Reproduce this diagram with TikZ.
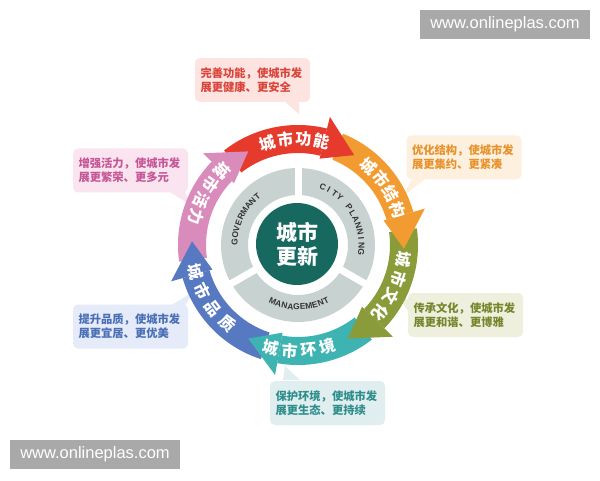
\documentclass[tikz,border=0pt]{standalone}
\usepackage{fontspec}
\newfontfamily\cjk{Noto Sans CJK SC}
\newfontfamily\arial{Liberation Sans}
\definecolor{cred}{HTML}{E53A2C}
\definecolor{corange}{HTML}{F29B30}
\definecolor{colive}{HTML}{8A9B3A}
\definecolor{cteal}{HTML}{3DB4B2}
\definecolor{cblue}{HTML}{5679C2}
\definecolor{cpink}{HTML}{D98CBB}
\definecolor{ringgray}{HTML}{C8D2D1}
\definecolor{darkc}{HTML}{17695F}
\definecolor{wmgray}{HTML}{A9A9A9}
\definecolor{ringtext}{HTML}{333333}
\definecolor{fa}{HTML}{FDE4E1}\definecolor{ta}{HTML}{D9453B}
\definecolor{fb}{HTML}{FDF0DE}\definecolor{tb}{HTML}{E8922C}
\definecolor{fc}{HTML}{EEF0DD}\definecolor{tc}{HTML}{76862D}
\definecolor{fd}{HTML}{E1EEF0}\definecolor{td}{HTML}{2E8E8C}
\definecolor{fe}{HTML}{E5EBF8}\definecolor{te}{HTML}{4A6FB6}
\definecolor{ff}{HTML}{FAE4EF}\definecolor{tf}{HTML}{C55796}
\newcommand\myarclabel[7]{%
  \foreach \ch [count=\i from 0] in {#1} {%
    \pgfmathsetmacro\ang{#2+\i*(#3)}%
    \pgfmathsetmacro\rot{\ang+#4}%
    \node[#6, rotate=\rot] (#7\i) at (\ang:#5) {\ch};
  }}
\begin{document}
\begin{tikzpicture}[x=1pt,y=1pt,
  wm/.style={fill=wmgray, minimum width=170, minimum height=29, inner sep=0,
    text=white, font=\arial\fontsize{16.5}{18}\selectfont},
  arclbl/.style={text=white, inner sep=0, font=\cjk\bfseries\fontsize{16}{16}\selectfont},
  ringlbl/.style={text=ringtext, inner sep=0, font=\arial\bfseries\fontsize{8.5}{9}\selectfont},
  callout/.style={rounded corners=5, minimum width=115, minimum height=44, inner sep=0,
    text width=104, align=left, font=\cjk\bfseries\fontsize{11.3}{14}\selectfont}]
\useasboundingbox (0,0) rectangle (600,480);
\fill[white] (0,0) rectangle (600,480);

% watermarks
\node[wm] (wm1) at (505,455.5) {www.onlineplas.com};
\node[wm] (wm2) at (95,25.5) {www.onlineplas.com};

% callout pointers
\fill[fa] (283,380) -- (299,380) -- (299,366) -- cycle;
\fill[fb] (413,303) -- (428,303) -- (403,284) -- cycle;
\fill[fc] (410,180) -- (410,166) -- (397,185) -- cycle;
\fill[fd] (283,100) -- (300,100) -- (285,114) -- cycle;
\fill[fe] (170,174) -- (185,174) -- (193,188) -- cycle;
\fill[ff] (170,288) -- (185,288) -- (192,274) -- cycle;

% callout boxes
\node[callout, fill=fa, text=ta] (ba) at (252.5,400) {完善功能，使城市发\\展更健康、更安全};
\node[callout, fill=fb, text=tb] (bb) at (464,322.5) {优化结构，使城市发\\展更集约、更紧凑};
\node[callout, fill=fc, text=tc] (bc) at (465.5,165) {传承文化，使城市发\\展更和谐、更博雅};
\node[callout, fill=fd, text=td] (bd) at (327.5,77) {保护环境，使城市发\\展更生态、更持续};
\node[callout, fill=fe, text=te] (be) at (130.5,153.5) {提升品质，使城市发\\展更宜居、更优美};
\node[callout, fill=ff, text=tf] (bf) at (130.5,309.5) {增强活力，使城市发\\展更繁荣、更多元};

\begin{scope}[shift={(298,235)}]
  % gray ring
  \fill[ringgray, even odd rule] (0,0) circle[radius=77] (0,0) circle[radius=50];
  \foreach \a in {90,210,330} \draw[white, line width=7] (\a:45) -- (\a:82);
  \fill[darkc] (-1,1) circle[radius=41];
  \node[text=white, align=center, inner sep=0,
    font=\cjk\bfseries\fontsize{21}{24}\selectfont] (ctr) at (-1,1) {城市\\更新};

  % ring texts
  \myarclabel{G,O,V,E,R,M,A,N,T}{177}{-5.875}{-90}{63.5}{ringlbl}{gv}
  \myarclabel{C,I,T,Y,,P,L,A,N,N,I,N,G}{67}{-6.1}{-90}{63.5}{ringlbl}{cp}
  \myarclabel{M,A,N,A,G,E,M,E,N,T}{246}{5.67}{90}{62}{ringlbl}{mg}

  % colored bands
  \foreach \t/\s/\c in {58/128/cred, -2/68/corange, -62/8/colive, -118/-52/cteal, 178/252/cblue, 118/188/cpink} {
    \pgfmathsetmacro\b{\t+18}
    \fill[\c] (\s:120) arc[start angle=\s, end angle=\b, radius=120]
      -- (\b:92) arc[start angle=\b, end angle=\s, radius=92] -- cycle;
  }
  % arrow heads
  \foreach \t/\c in {58/cred, -2/corange, -62/colive, -118/cteal, 178/cblue, 118/cpink} {
    \pgfmathsetmacro\b{\t+18}
    \fill[\c] (\b:132) -- (\t:106) -- (\b:89) -- cycle;
  }

  % arc labels
  \myarclabel{城,市,功,能}{106.6}{-9.8}{-90}{106}{arclbl}{la}
  \myarclabel{城,市,结,构}{48}{-9.5}{-90}{106}{arclbl}{lb}
  \myarclabel{城,市,文,化}{-8}{-10.5}{-90}{106}{arclbl}{lc}
  \myarclabel{城,市,环,境}{255.3}{10.3}{90}{106}{arclbl}{ld}
  \myarclabel{城,市,品,质}{194.4}{11.2}{90}{106}{arclbl}{le}
  \myarclabel{城,市,活,力}{135.7}{9.6}{90}{106}{arclbl}{lf}
\end{scope}
\end{tikzpicture}
\end{document}
